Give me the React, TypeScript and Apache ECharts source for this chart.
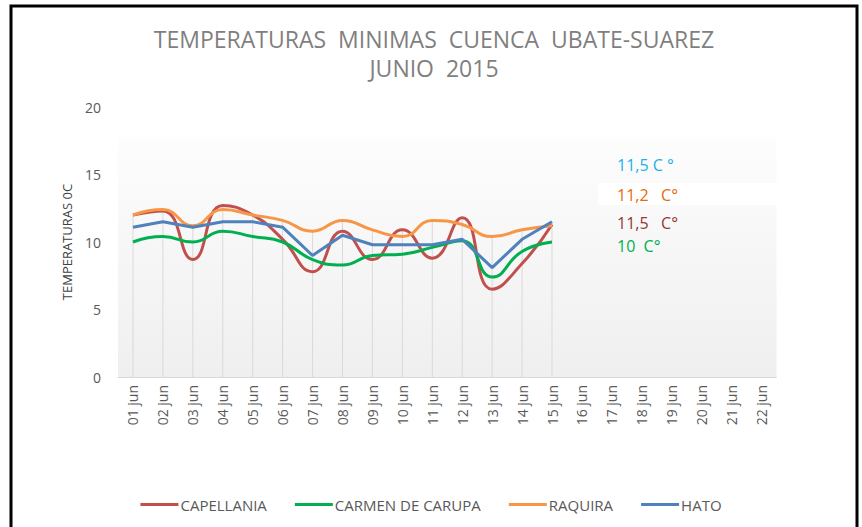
import React, { useEffect, useRef } from 'react';
import * as echarts from 'echarts';

const categories = [
  '01 jun', '02 jun', '03 jun', '04 jun', '05 jun', '06 jun', '07 jun', '08 jun',
  '09 jun', '10 jun', '11 jun', '12 jun', '13 jun', '14 jun', '15 jun', '16 jun',
  '17 jun', '18 jun', '19 jun', '20 jun', '21 jun', '22 jun',
];
const capellania = [12.0, 12.3, 8.7, 12.7, 12.0, 10.2, 7.8, 10.8, 8.7, 10.9, 8.8, 11.8, 6.5, 8.4, 11.3];
const carmenDeCarupa = [10.0, 10.4, 10.0, 10.8, 10.4, 10.0, 8.7, 8.3, 9.0, 9.1, 9.6, 10.1, 7.4, 9.3, 10.0];
const raquira = [12.0, 12.4, 11.2, 12.4, 12.0, 11.6, 10.8, 11.6, 10.9, 10.4, 11.6, 11.3, 10.4, 10.9, 11.2];
const hato = [11.1, 11.5, 11.1, 11.5, 11.5, 11.1, 9.0, 10.5, 9.8, 9.8, 9.8, 10.2, 8.1, 10.2, 11.5];
const seriesNames = ['CAPELLANIA', 'CARMEN DE CARUPA', 'RAQUIRA', 'HATO'];
const annotationTexts = ['11,5 C °', '11,2   C°', '11,5   C°', '10  C°'];
const titleLines = ['TEMPERATURAS  MINIMAS  CUENCA  UBATE-SUAREZ', 'JUNIO  2015'];

const FONT = '"Open Sans", "Noto Sans", sans-serif';

export default function App() {
  const ref = useRef<HTMLDivElement>(null);
  useEffect(() => {
    document.body.style.margin = '0';
    const chart = echarts.init(ref.current!, null, { renderer: 'svg' });
    const dropTops = capellania.map((v, i) => Math.max(v, carmenDeCarupa[i], raquira[i], hato[i]));
    const colors = ['#c0504d', '#00b050', '#f79646', '#4f81bd'];
    const annColors = ['#1cb0ec', '#e46c0a', '#953735', '#00b050'];
    const annY = [165, 195, 223, 246];
    chart.setOption({
      animation: false,
      backgroundColor: '#ffffff',
      grid: { left: 118, right: 85.5, top: 107, bottom: 150 },
      graphic: [
        {
          type: 'rect', z: -10, silent: true,
          shape: { x: 118, y: 137, width: 658.5, height: 240 },
          style: {
            fill: new echarts.graphic.LinearGradient(0, 0, 0, 1, [
              { offset: 0, color: '#fdfdfd' },
              { offset: 1, color: '#efefef' },
            ]),
          },
        },
        { type: 'rect', z: -5, silent: true, shape: { x: 598, y: 183, width: 180, height: 22 }, style: { fill: '#ffffff' } },
        { type: 'rect', z: 100, silent: true, shape: { x: 11, y: 6, width: 846, height: 540 }, style: { fill: 'none', stroke: '#000', lineWidth: 3 } },
        {
          type: 'text', x: 434, y: 39, z: 50,
          style: { text: titleLines[0], fill: '#7f7f7f', font: `23px ${FONT}`, textAlign: 'center', textVerticalAlign: 'middle' },
        },
        {
          type: 'text', x: 434, y: 68, z: 50,
          style: { text: titleLines[1], fill: '#7f7f7f', font: `23px ${FONT}`, textAlign: 'center', textVerticalAlign: 'middle' },
        },
        ...annotationTexts.map((t, i) => ({
          type: 'text', x: 617, y: annY[i], z: 50,
          style: { text: t, fill: annColors[i], font: `16px ${FONT}`, textVerticalAlign: 'middle' },
        })),
      ],
      legend: {
        data: seriesNames,
        bottom: 10,
        left: 'center',
        icon: 'rect',
        itemWidth: 38,
        itemHeight: 3,
        itemGap: 28,
        textStyle: { color: '#595959', fontSize: 15, fontFamily: FONT, padding: [0, 0, 0, -3] },
      },
      xAxis: {
        type: 'category',
        data: categories,
        boundaryGap: true,
        axisLine: { lineStyle: { color: '#d9d9d9', width: 1 } },
        axisTick: { show: false },
        axisLabel: { rotate: 90, color: '#595959', fontSize: 14, fontFamily: FONT, margin: 8 },
        splitLine: { show: false },
      },
      yAxis: {
        type: 'value',
        min: 0,
        max: 20,
        interval: 5,
        name: 'TEMPERATURAS 0C',
        nameLocation: 'middle',
        nameGap: 45,
        nameTextStyle: { color: '#404040', fontSize: 13, fontFamily: FONT },
        axisLine: { show: false },
        axisTick: { show: false },
        splitLine: { show: false },
        axisLabel: { color: '#595959', fontSize: 14, fontFamily: FONT, margin: 17 },
      },
      series: [
        {
          type: 'bar', name: 'drop', data: dropTops, barWidth: 1, z: 1, silent: true,
          itemStyle: { color: '#d9d9d9' },
        },
        ...[capellania, carmenDeCarupa, raquira, hato].map((d, i) => ({
          type: 'line',
          name: seriesNames[i],
          data: d,
          smooth: i === 3 ? false : 0.5,
          showSymbol: false,
          symbol: 'none',
          z: 5,
          lineStyle: { color: colors[i], width: 3 },
          itemStyle: { color: colors[i] },
        })),
      ],
    });
    return () => chart.dispose();
  }, []);
  return <div ref={ref} style={{ width: 862, height: 527 }} />;
}
